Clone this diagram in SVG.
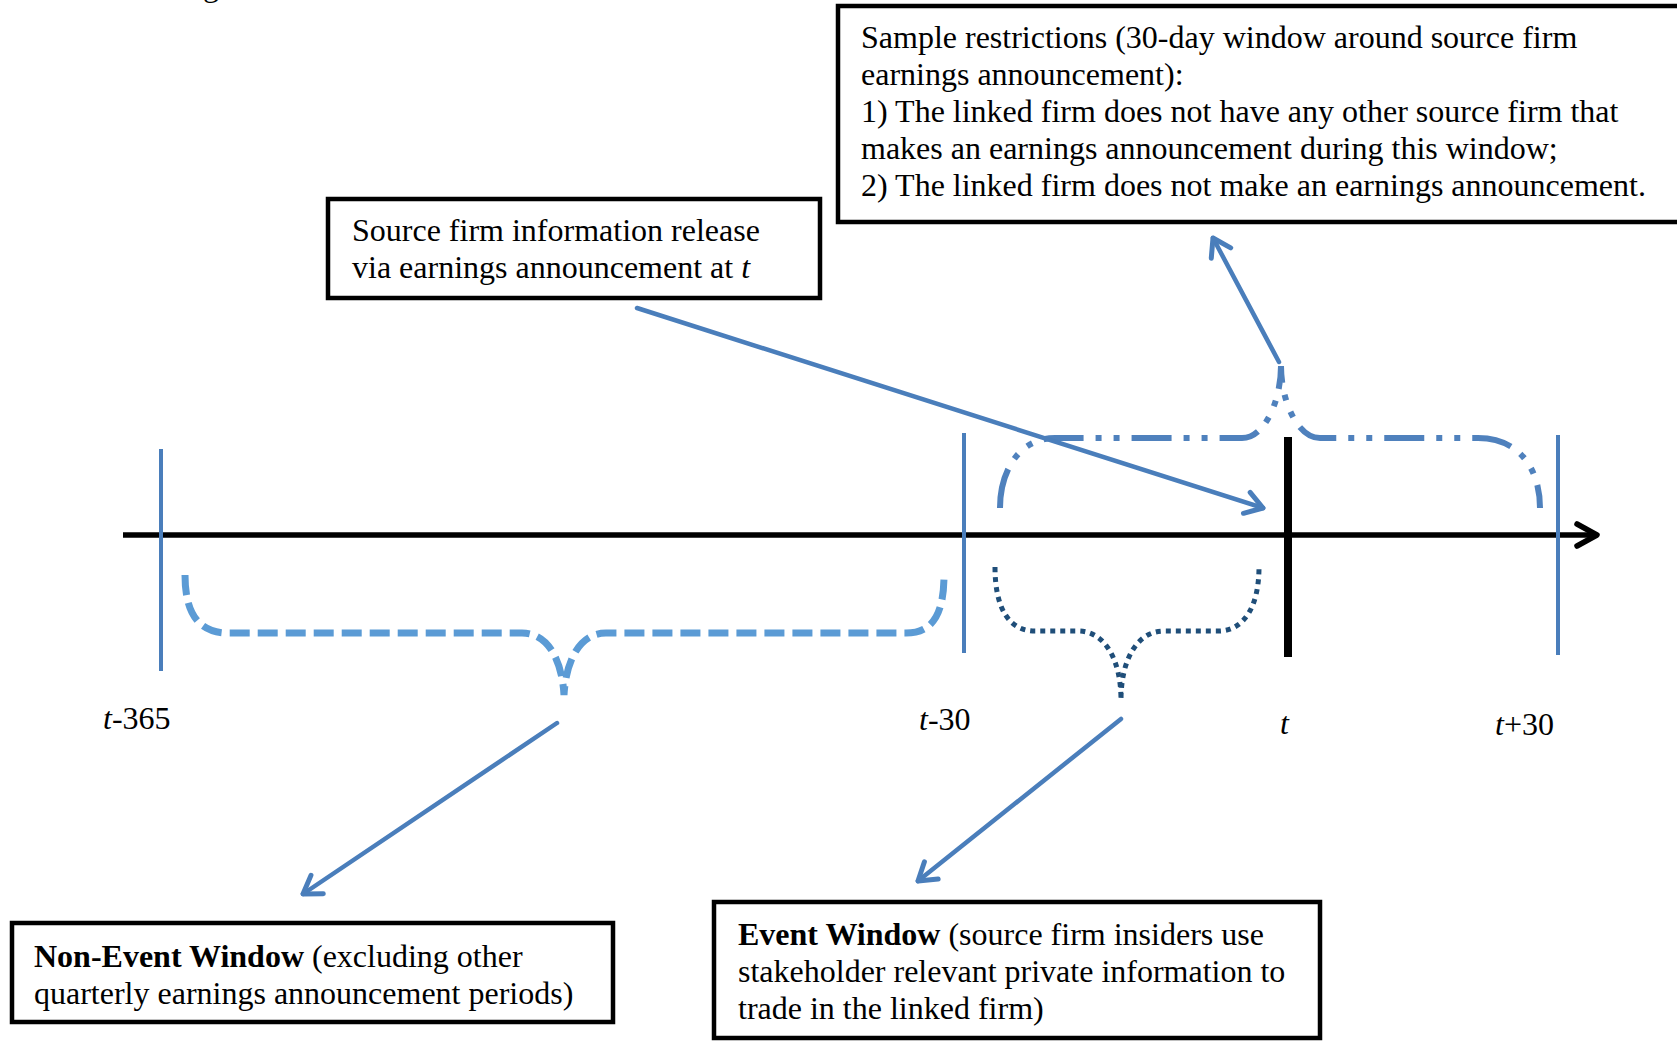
<svg xmlns="http://www.w3.org/2000/svg" width="1677" height="1041" viewBox="0 0 1677 1041">
<style>
text{font-family:"Liberation Serif","Times New Roman",serif;font-size:32px;fill:#000}
.box{fill:#fff;stroke:#000;stroke-width:4.5}
.tick{stroke:#4A7EBB;stroke-width:4;fill:none}
.conn{stroke:#4A7EBB;stroke-width:4.5;fill:none;stroke-linecap:round;marker-end:url(#open)}
.it{font-style:italic}
.b{font-weight:bold}
</style>
<defs>
<marker id="open" markerUnits="userSpaceOnUse" viewBox="-22 -14 26 28" markerWidth="26" markerHeight="28" refX="0" refY="0" orient="auto">
<path d="M-17,-11 L0,0 L-17,11" fill="none" stroke="#4A7EBB" stroke-width="5" stroke-linecap="round" stroke-linejoin="round"/>
</marker>
</defs>
<text x="203" y="-4">g</text>
<g id="axis">
<line x1="123" y1="535" x2="1595" y2="535" stroke="#000" stroke-width="5.5"/>
<path d="M1577,524 L1597,535 L1577,546" fill="none" stroke="#000" stroke-width="5.5" stroke-linecap="round" stroke-linejoin="round"/>
</g>
<g id="ticks">
<line class="tick" x1="161" y1="449" x2="161" y2="671"/>
<line class="tick" x1="964" y1="433" x2="964" y2="653"/>
<line x1="1288" y1="437" x2="1288" y2="657" stroke="#000" stroke-width="8"/>
<line class="tick" x1="1558" y1="435" x2="1558" y2="655"/>
</g>
<g id="labels">
<text x="103" y="729"><tspan class="it">t</tspan>-365</text>
<text x="919" y="730"><tspan class="it">t</tspan>-30</text>
<text x="1280" y="734" class="it">t</text>
<text x="1495" y="735"><tspan class="it">t</tspan>+30</text>
</g>
<g id="braces">
<path id="brace-nonevent" d="M185,575 C185,615 200,633 228,633 L522,633 C548,633 562,660 564,695 C566,660 580,633 606,633 L906,633 C932,633 944,615 944,575" fill="none" stroke="#5B9BD5" stroke-width="7" stroke-dasharray="20 8"/>
<path id="brace-event" d="M995,567 C995,610 1010,631 1035,631 L1078,631 C1105,631 1121,660 1121,700 C1121,660 1137,631 1164,631 L1218,631 C1245,631 1259,605 1259,567" fill="none" stroke="#1F4E79" stroke-width="5" stroke-dasharray="5 5"/>
<path id="brace-sample" d="M1000,508 C1000,470 1020,438 1055,438 L1242,438 C1265,438 1281,400 1281,366 C1281,400 1297,438 1320,438 L1478,438 C1520,438 1540,470 1540,508" fill="none" stroke="#4F81BD" stroke-width="6" stroke-dasharray="40 12 6 12 6 12"/>
</g>
<g id="connectors">
<line class="conn" x1="637" y1="308" x2="1263" y2="508"/>
<line class="conn" x1="1279" y1="362" x2="1213" y2="238"/>
<line class="conn" x1="557" y1="723" x2="303" y2="894"/>
<line class="conn" x1="1121" y1="719" x2="918" y2="881"/>
</g>
<g id="sample-restrictions">
<rect class="box" x="838" y="6" width="860" height="216"/>
<text x="861" y="48">Sample restrictions (30-day window around source firm</text>
<text x="861" y="85">earnings announcement):</text>
<text x="861" y="122">1) The linked firm does not have any other source firm that</text>
<text x="861" y="159">makes an earnings announcement during this window;</text>
<text x="861" y="196">2) The linked firm does not make an earnings announcement.</text>
</g>
<g id="source-release">
<rect class="box" x="328" y="199" width="492" height="99"/>
<text x="352" y="241">Source firm information release</text>
<text x="352" y="278">via earnings announcement at <tspan class="it">t</tspan></text>
</g>
<g id="non-event">
<rect class="box" x="12" y="923" width="601" height="99"/>
<text x="34" y="967"><tspan class="b">Non-Event Window</tspan> (excluding other</text>
<text x="34" y="1004">quarterly earnings announcement periods)</text>
</g>
<g id="event">
<rect class="box" x="714" y="902" width="606" height="136"/>
<text x="738" y="945"><tspan class="b">Event Window</tspan> (source firm insiders use</text>
<text x="738" y="982">stakeholder relevant private information to</text>
<text x="738" y="1019">trade in the linked firm)</text>
</g>
</svg>
